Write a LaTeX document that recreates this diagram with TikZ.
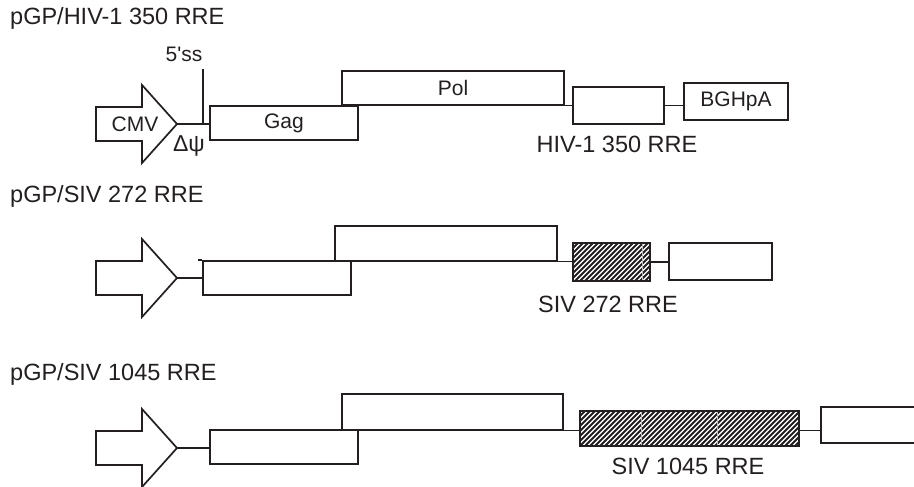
\documentclass[tikz,border=0pt]{standalone}
\usepackage{fontspec}
\setmainfont{Liberation Sans}
\usetikzlibrary{fit}
\definecolor{ink}{HTML}{231F20}
\begin{document}
\begin{tikzpicture}[x=1bp,y=-1bp,
  box/.style={draw=ink, line width=1.7bp, inner sep=0pt},
  boxtext/.style={font=\fontsize{21bp}{25bp}\selectfont, text=ink, inner sep=0pt},
  conn/.style={draw=ink, line width=1.2bp},
  edge/.style={draw=ink, line width=1.7bp},
  title/.style={font=\fontsize{23.5bp}{28bp}\selectfont, text=ink, inner sep=0pt, anchor=base west},
  rrelabel/.style={font=\fontsize{23.5bp}{28bp}\selectfont, text=ink, inner sep=0pt, anchor=base},
  small/.style={font=\fontsize{21bp}{25bp}\selectfont, text=ink, inner sep=0pt},
  hatch/.style={draw=ink, line width=1.9bp},
  seam/.style={draw=white!75!black, line width=0.5bp},
  promoter/.style={draw=ink, line width=1.7bp, line join=miter}
]
\useasboundingbox (0,0) rectangle (914,487);
\clip (0,0) rectangle (914,487);

% ---------- titles ----------
\node[title] (t1) at (10,25) {pGP/HIV-1 350 RRE};
\node[title] (t2) at (10,203) {pGP/SIV 272 RRE};
\node[title] (t3) at (10,380) {pGP/SIV 1045 RRE};

% ---------- row 1 ----------
\draw[promoter] (96,107) -- (142,107) -- (142,85) -- (177,124) -- (142,163) -- (142,141) -- (96,141) -- cycle;
\coordinate (tip1) at (177,124);
\node[small] (cmv) at (135,124) {CMV};
\node[box, fit={(210,106) (358,140)}] (gag1) {};
\node[box, fit={(342,71) (564,105)}] (pol1) {};
\node[box, fit={(573,87) (664,124)}] (rre1) {};
\node[box, fit={(684,83) (788,120)}] (bgh1) {};
\node[boxtext] (gagtxt) at (gag1.center) {Gag};
\node[boxtext] (poltxt) at (pol1.center) {Pol};
\node[boxtext] (bghtxt) at (bgh1.center) {BGHpA};
\draw[conn] (tip1) -- (tip1 -| gag1.west);
\coordinate (sstop) at (203,69);
\draw[conn] (sstop) -- (sstop |- tip1);
\node[small, anchor=base] (ss5) at (184,62) {5\textquotesingle ss};
\node[font=\fontsize{23bp}{27bp}\selectfont, text=ink, inner sep=0pt] (dpsi) at (189,146) {Δψ};
\draw[conn] (pol1.south east) -- (pol1.south east -| rre1.west);
\draw[conn] (pol1.south east -| rre1.east) -- (pol1.south east -| bgh1.west);
\node[rrelabel] (lab1) at (617,153) {HIV-1 350 RRE};

% ---------- row 2 ----------
\draw[promoter] (96,261) -- (142,261) -- (142,239) -- (177,278) -- (142,317) -- (142,295) -- (96,295) -- cycle;
\coordinate (tip2) at (177,278);
\node[box, fit={(203,261) (351,295)}] (gag2) {};
\draw[edge] (gag2.north west) -- ++(-4,0);
\node[box, fit={(335,226) (557,261)}] (pol2) {};
\begin{scope}
  \clip (573,243) rectangle (650,281);
  \foreach \s in {530,535,...,655} \draw[hatch] (\s,281) -- ++(38,-38);
  \draw[seam] (642,243) -- (642,281);
\end{scope}
\node[box, fit={(573,243) (650,281)}] (rre2) {};
\node[box, fit={(669,243) (772,280)}] (box2) {};
\draw[conn] (tip2) -- (tip2 -| gag2.west);
\draw[conn] (pol2.south east) -- (pol2.south east -| rre2.west);
\draw[conn] (rre2.east) -- (rre2.east -| box2.west);
\node[rrelabel] (lab2) at (608,313) {SIV 272 RRE};

% ---------- row 3 ----------
\draw[promoter] (96,431) -- (142,431) -- (142,409) -- (177,448) -- (142,487) -- (142,465) -- (96,465) -- cycle;
\coordinate (tip3) at (177,448);
\node[box, fit={(210,430) (358,464)}] (gag3) {};
\node[box, fit={(342,394) (563,430)}] (pol3) {};
\begin{scope}
  \clip (580,411) rectangle (799,446);
  \foreach \s in {540,545,...,805} \draw[hatch] (\s,446) -- ++(35,-35);
  \draw[seam] (641,411) -- (641,446);
  \draw[seam] (717,411) -- (717,446);
\end{scope}
\node[box, fit={(580,411) (799,446)}] (rre3) {};
\node[box, fit={(821,407) (940,443)}] (box3) {};
\draw[conn] (tip3) -- (tip3 -| gag3.west);
\draw[conn] (pol3.south east) -- (pol3.south east -| rre3.west);
\draw[conn] (pol3.south east -| rre3.east) -- (pol3.south east -| box3.west);
\node[rrelabel] (lab3) at (688,474) {SIV 1045 RRE};
\end{tikzpicture}
\end{document}
